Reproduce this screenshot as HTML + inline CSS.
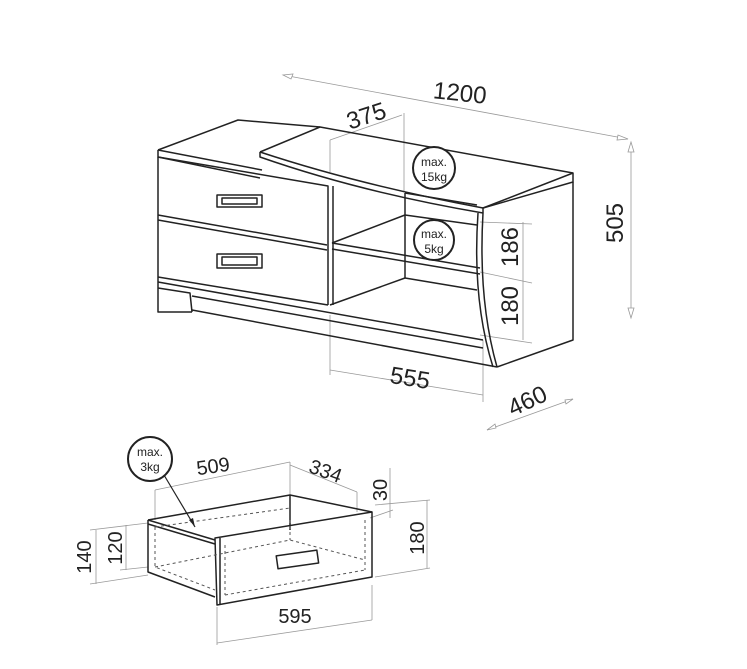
<!DOCTYPE html>
<html><head><style>
html,body{margin:0;padding:0;background:#fff;}
svg{display:block;}
text{font-family:"Liberation Sans",sans-serif;fill:#222;}
</style></head><body>
<svg width="747" height="669" viewBox="0 0 747 669">
<g fill="none" stroke="#999" stroke-width="0.8">
<line x1="283" y1="75" x2="628" y2="139"/>
<path d="M283 75 l10 -1 l-2 5 z M628 139 l-10 -4 l-1 5 z" fill="#fff"/>
<line x1="631" y1="142" x2="631" y2="318"/>
<path d="M631 142 l-3 10 h6 z M631 318 l-3 -10 h6 z" fill="#fff"/>
<line x1="330" y1="140" x2="402" y2="115"/>
<line x1="330" y1="140" x2="330" y2="172"/>
<line x1="404" y1="113" x2="404" y2="192"/>
<line x1="523" y1="222" x2="523" y2="340"/>
<line x1="480" y1="222" x2="532" y2="224"/>
<line x1="480" y1="272" x2="532" y2="283"/>
<line x1="480" y1="335" x2="532" y2="343"/>
<line x1="330" y1="315" x2="330" y2="375"/>
<line x1="483" y1="340" x2="483" y2="402"/>
<line x1="330" y1="370" x2="483" y2="395"/>
<line x1="487" y1="430" x2="573" y2="399"/>
<path d="M487 430 l8 -6 l1 4 z M573 399 l-8 1 l1 4 z" fill="#fff"/>
<line x1="155" y1="490" x2="290" y2="462"/>
<line x1="155" y1="490" x2="155" y2="520"/>
<line x1="290" y1="462" x2="290" y2="495"/>
<line x1="290" y1="465" x2="357" y2="492"/>
<line x1="357" y1="492" x2="357" y2="512"/>
<line x1="390" y1="468" x2="390" y2="518"/>
<line x1="370" y1="518" x2="393" y2="510"/>
<line x1="375" y1="505" x2="430" y2="500"/>
<line x1="375" y1="577" x2="430" y2="568"/>
<line x1="427" y1="500" x2="427" y2="568"/>
<line x1="90" y1="530" x2="148" y2="523"/>
<line x1="90" y1="584" x2="148" y2="575"/>
<line x1="96" y1="530" x2="96" y2="584"/>
<line x1="126" y1="525" x2="126" y2="570"/>
<line x1="120" y1="570" x2="148" y2="567"/>
<line x1="217" y1="607" x2="217" y2="645"/>
<line x1="372" y1="585" x2="372" y2="620"/>
<line x1="217" y1="643" x2="372" y2="620"/>
</g>
<g fill="none" stroke="#222" stroke-width="1.5" stroke-linejoin="round">
<path d="M158 150 L238 120 L320 127"/>
<path d="M158 150 L158 157 L260 178"/>
<path d="M158 150 L262 170"/>
<path d="M158 157 L158 312 L192 312"/>
<path d="M158 157 L328 186 L328 305"/>
<path d="M158 215 L327 245"/>
<path d="M158 220 L327 250"/>
<path d="M158 277 L328 305"/>
<path d="M158 282 L483 340"/>
<path d="M158 288 L190 293 L192 312"/>
<path d="M192 296 L483 348"/>
<path d="M192 310 L497 367"/>
<path d="M260 152 L320 127 L573 173 L573 182 L483 208 L483 213"/>
<path d="M260 152 Q360 185 483 208"/>
<path d="M260 152 L260 157 Q360 192 483 213"/>
<path d="M483 208 L573 173"/>
<path d="M333 186 L333 305"/>
<path d="M405 193 L405 278"/>
<path d="M332 243 L405 215 L477 225"/>
<path d="M332 243 L480 268"/>
<path d="M332 249 L480 274"/>
<path d="M330 305 L405 278 L477 290"/>
<path d="M405 193 L477 205"/>
<path d="M483 213 Q478 300 497 367"/>
<path d="M478 213 Q472 300 493 367"/>
<path d="M573 182 L573 340 L497 367"/>
<rect x="217" y="195" width="45" height="12"/>
<rect x="222" y="198" width="35" height="6"/>
<rect x="217" y="254" width="45" height="14"/>
<rect x="222" y="257" width="35" height="8"/>
<path d="M148 520 L290 495 L372 512"/>
<path d="M148 520 L148 572 L215 597"/>
<path d="M148 520 L215 540"/>
<path d="M148 524 L215 544"/>
<path d="M290 495 L290 530"/>
<path d="M215 538 L372 512 L372 577 L217 605 Z"/>
<path d="M220 538 L220 605"/>
<rect x="277" y="553" width="41" height="13" transform="rotate(-8 297 560)"/>
</g>
<g fill="none" stroke="#555" stroke-width="1" stroke-dasharray="3,3">
<path d="M155 527 L155 567 L215 590"/>
<path d="M155 567 L290 540 L365 560"/>
<path d="M225 595 L365 570"/>
<path d="M290 520 L290 540"/>
<path d="M225 545 L225 595"/>
<path d="M365 520 L365 570"/>
<path d="M155 527 L290 508"/>
</g>
<g fill="#fff" stroke="#222" stroke-width="2">
<circle cx="434" cy="168" r="21"/>
<circle cx="434" cy="240" r="20"/>
<circle cx="150" cy="459" r="22"/>
</g>
<line x1="164" y1="475" x2="195" y2="527" stroke="#222" stroke-width="1.2"/>
<path d="M195 527 l-6 -7 l4 -2 z" fill="#222"/>
<g font-size="12" text-anchor="middle">
<text x="434" y="166">max.</text><text x="434" y="181">15kg</text>
<text x="434" y="238">max.</text><text x="434" y="253">5kg</text>
<text x="150" y="456">max.</text><text x="150" y="471">3kg</text>
</g>
<g font-size="24" text-anchor="middle">
<text x="460" y="101" transform="rotate(6 460 92)">1200</text>
<text x="0" y="0" transform="translate(623 223) rotate(-90)">505</text>
<text x="366" y="124" transform="rotate(-18 366 115)">375</text>
<text x="0" y="0" transform="translate(518 247) rotate(-90)">186</text>
<text x="0" y="0" transform="translate(518 306) rotate(-90)">180</text>
<text x="410" y="386" transform="rotate(9 410 378)">555</text>
<text x="527" y="409" transform="rotate(-25 527 400)">460</text>
<text x="213" y="473" font-size="20" transform="rotate(-8 213 466)">509</text>
<text x="326" y="478" font-size="20" transform="rotate(20 326 470)">334</text>
<text x="0" y="0" font-size="20" transform="translate(387 490) rotate(-90)">30</text>
<text x="0" y="0" font-size="20" transform="translate(424 538) rotate(-90)">180</text>
<text x="0" y="0" font-size="20" transform="translate(91 557) rotate(-90)">140</text>
<text x="0" y="0" font-size="20" transform="translate(122 548) rotate(-90)">120</text>
<text x="295" y="623" font-size="20">595</text>
</g>
</svg>
</body></html>
